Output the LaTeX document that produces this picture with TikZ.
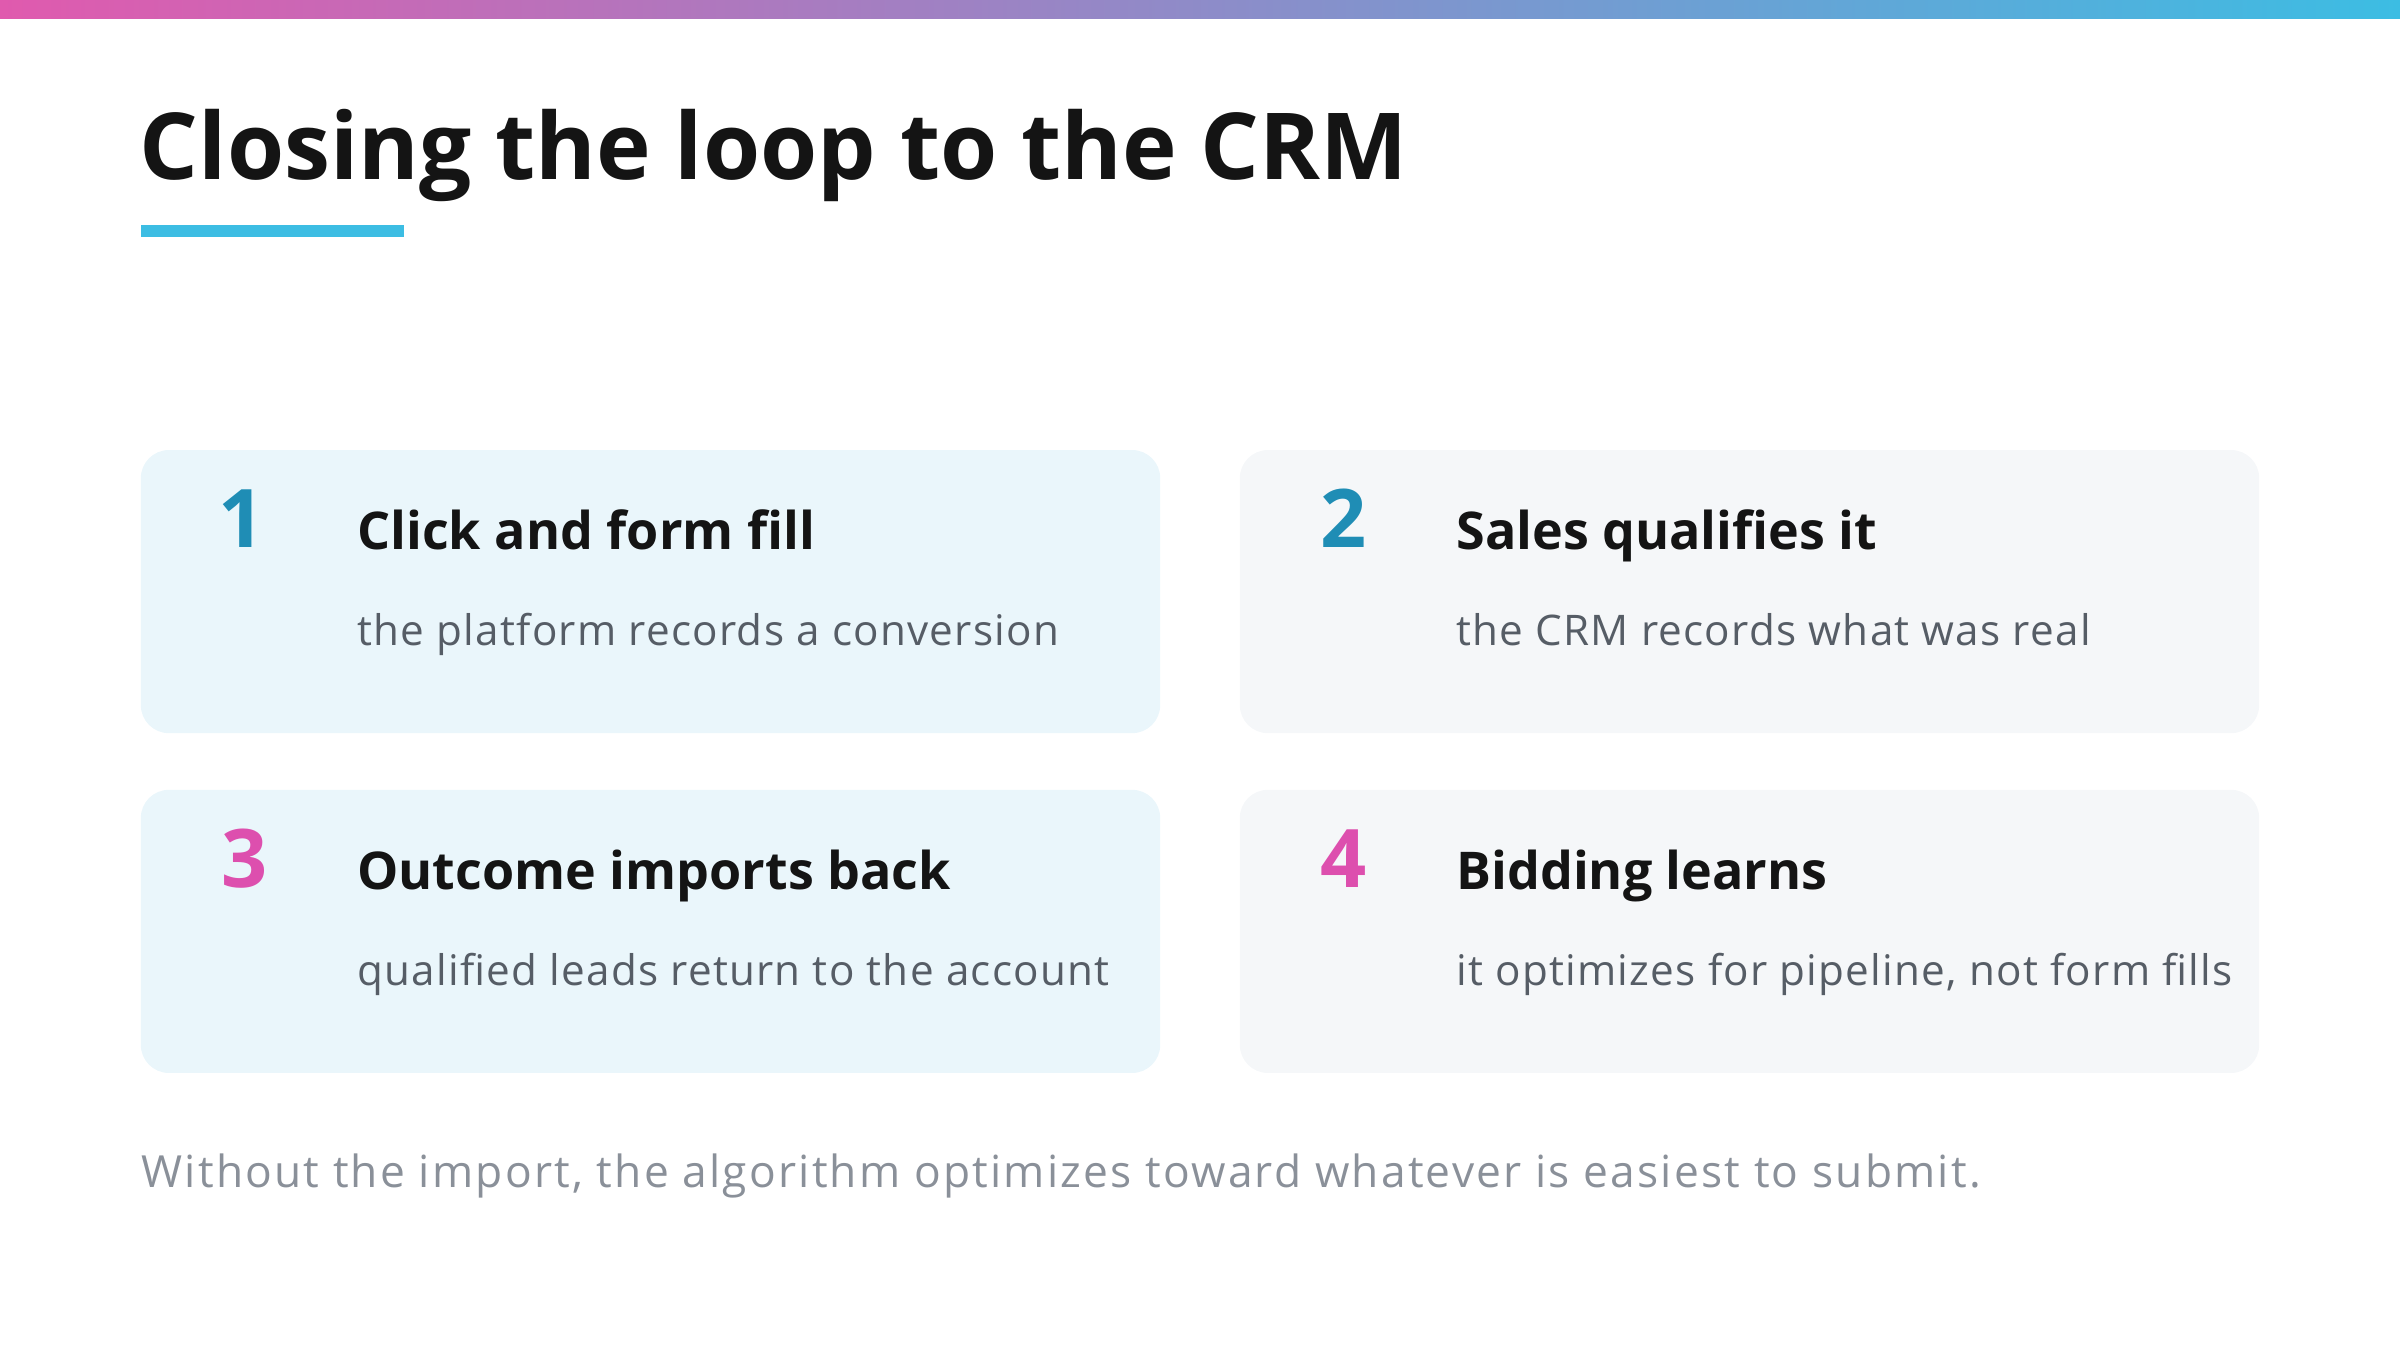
\documentclass[tikz,border=0pt]{standalone}
\usepackage{fontspec}
\setmainfont{Open Sans}
\usetikzlibrary{positioning}
\definecolor{barpink}{HTML}{E05AAE}
\definecolor{barcyan}{HTML}{3CBDE3}
\definecolor{cardblue}{HTML}{EAF6FB}
\definecolor{cardgrey}{HTML}{F5F7F9}
\definecolor{numteal}{HTML}{1F8DB5}
\definecolor{numpink}{HTML}{DD4FAE}
\definecolor{subgrey}{HTML}{565D66}
\definecolor{footgrey}{HTML}{8A9099}
\definecolor{inkdark}{HTML}{141414}
\tikzset{
  card/.style={rounded corners=8pt, draw=none},
  num/.style={anchor=base west, inner sep=0pt, font=\fontsize{23}{26}\selectfont\bfseries},
  head/.style={anchor=base west, inner sep=0pt, text=inkdark, font=\fontsize{14.8}{18}\selectfont\bfseries},
  sub/.style={anchor=base west, inner sep=0pt, text=subgrey, font=\fontsize{12}{15}\selectfont\addfontfeature{LetterSpace=3}}
}
\begin{document}
\begin{tikzpicture}[x=0.015306cm, y=-0.015306cm]
    \useasboundingbox (0,0) rectangle (1568,882);

    % Bandeau
    \shade[left color=barpink, right color=barcyan] (0,0) rectangle (1568,12);

    % Titre
    \node[anchor=base west, inner sep=0pt, text=inkdark, font=\fontsize{26.3}{30}\selectfont\bfseries] at (91,117) (title) {Closing the loop to the CRM};
    \fill[barcyan] (92,147) rectangle (264,155);

    % Cartes
    \fill[card, cardblue] (92,294) rectangle (758,479);
    \fill[card, cardgrey] (810,294) rectangle (1476,479);
    \fill[card, cardblue] (92,516) rectangle (758,701);
    \fill[card, cardgrey] (810,516) rectangle (1476,701);

    % Etape 1
    \node[num, text=numteal] at (142,358) (n1) {1};
    \node[head] at (233,359) (h1) {Click and form fill};
    \node[sub] at (233,422) (s1) {the platform records a conversion};

    % Etape 2
    \node[num, text=numteal] at (862,358) (n2) {2};
    \node[head] at (951,359) (h2) {Sales qualifies it};
    \node[sub] at (951,422) (s2) {the CRM records what was real};

    % Etape 3
    \node[num, text=numpink] at (144,580) (n3) {3};
    \node[head] at (233,581) (h3) {Outcome imports back};
    \node[sub] at (233,644) (s3) {qualified leads return to the account};

    % Etape 4
    \node[num, text=numpink] at (862,580) (n4) {4};
    \node[head] at (951,581) (h4) {Bidding learns};
    \node[sub] at (951,644) (s4) {it optimizes for pipeline, not form fills};

    % Note
    \node[sub, text=footgrey, font=\fontsize{12.6}{15}\selectfont\addfontfeature{LetterSpace=5}] at (92,776) (note) {Without the import, the algorithm optimizes toward whatever is easiest to submit.};
\end{tikzpicture}
\end{document}
